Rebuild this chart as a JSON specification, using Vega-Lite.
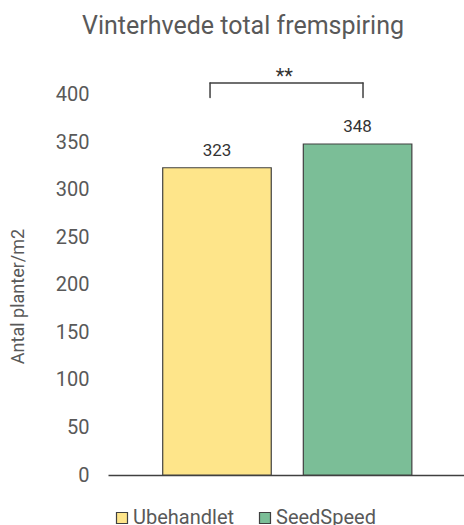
{
  "$schema": "https://vega.github.io/schema/vega-lite/v6.json",
  "autosize": "none",
  "width": 356,
  "height": 409,
  "padding": {"left": 108, "top": 66, "right": 0, "bottom": 50},
  "background": "white",
  "config": {
    "font": "Roboto",
    "view": {"stroke": null}
  },
  "title": {
    "text": "Vinterhvede total fremspiring",
    "fontSize": 25,
    "fontWeight": "normal",
    "color": "#595959",
    "anchor": "middle",
    "dx": -43,
    "offset": 27
  },
  "datasets": {
    "bars": [
      {"behandling": "Ubehandlet", "planter": 323},
      {"behandling": "SeedSpeed", "planter": 348}
    ],
    "bracket": [
      {"fra": "Ubehandlet", "til": "SeedSpeed", "top": 412, "bund": 397, "signifikans": "**"}
    ]
  },
  "layer": [
    {
      "data": {"name": "bars"},
      "mark": {"type": "bar", "stroke": "#404040", "strokeWidth": 1.2},
      "encoding": {
        "x": {
          "field": "behandling",
          "type": "nominal",
          "scale": {"domain": ["Ubehandlet", "SeedSpeed"], "paddingInner": 0.228, "paddingOuter": 0.38, "align": 0.512},
          "axis": {"title": null, "labels": false, "ticks": false, "domainColor": "#404040", "domainWidth": 1.5}
        },
        "y": {
          "field": "planter",
          "type": "quantitative",
          "scale": {"domain": [0, 430], "nice": false},
          "axis": {
            "title": "Antal planter/m2",
            "titleFontSize": 18,
            "titleFontWeight": "normal",
            "titleColor": "#595959",
            "titleX": -90,
            "titleY": 230,
            "titleAngle": -90,
            "titleBaseline": "middle",
            "titleAlign": "center",
            "values": [0, 50, 100, 150, 200, 250, 300, 350, 400],
            "labelFontSize": 20,
            "labelColor": "#595959",
            "labelPadding": 19,
            "grid": false,
            "domain": false,
            "ticks": false
          }
        },
        "fill": {
          "field": "behandling",
          "type": "nominal",
          "scale": {"domain": ["Ubehandlet", "SeedSpeed"], "range": ["#FEE58A", "#7BBE97"]},
          "legend": {
            "title": null,
            "orient": "none",
            "legendX": 4,
            "legendY": 442,
            "padding": 0,
            "direction": "horizontal",
            "symbolType": "square",
            "symbolSize": 121,
            "symbolStrokeWidth": 1.2,
            "symbolStrokeColor": "#404040",
            "labelFontSize": 20,
            "labelColor": "#595959",
            "labelOffset": 1,
            "columnPadding": 20
          }
        }
      }
    },
    {
      "data": {"name": "bars"},
      "mark": {"type": "text", "fontSize": 17, "color": "#333333", "dy": -12, "baseline": "alphabetic"},
      "encoding": {
        "x": {"field": "behandling", "type": "nominal"},
        "y": {"field": "planter", "type": "quantitative"},
        "text": {"field": "planter", "type": "quantitative"}
      }
    },
    {
      "data": {"name": "bracket"},
      "mark": {"type": "rule", "stroke": "#404040", "strokeWidth": 1.5, "strokeCap": "round"},
      "encoding": {
        "x": {"field": "fra", "type": "nominal", "bandPosition": 0.436},
        "y": {"field": "bund", "type": "quantitative"},
        "y2": {"field": "top"}
      }
    },
    {
      "data": {"name": "bracket"},
      "mark": {"type": "rule", "stroke": "#404040", "strokeWidth": 1.5, "strokeCap": "round"},
      "encoding": {
        "x": {"field": "til", "type": "nominal", "bandPosition": 0.55},
        "y": {"field": "bund", "type": "quantitative"},
        "y2": {"field": "top"}
      }
    },
    {
      "data": {"name": "bracket"},
      "mark": {"type": "rule", "stroke": "#404040", "strokeWidth": 1.5, "strokeCap": "round"},
      "encoding": {
        "x": {"field": "fra", "type": "nominal", "bandPosition": 0.436},
        "x2": {"field": "til", "bandPosition": 0.55},
        "y": {"field": "top", "type": "quantitative"}
      }
    },
    {
      "data": {"name": "bracket"},
      "mark": {"type": "text", "fontSize": 20, "color": "#333333", "baseline": "alphabetic"},
      "encoding": {
        "x": {"field": "fra", "type": "nominal", "bandPosition": 1.12},
        "y": {"field": "top", "type": "quantitative"},
        "text": {"field": "signifikans"}
      }
    }
  ]
}
